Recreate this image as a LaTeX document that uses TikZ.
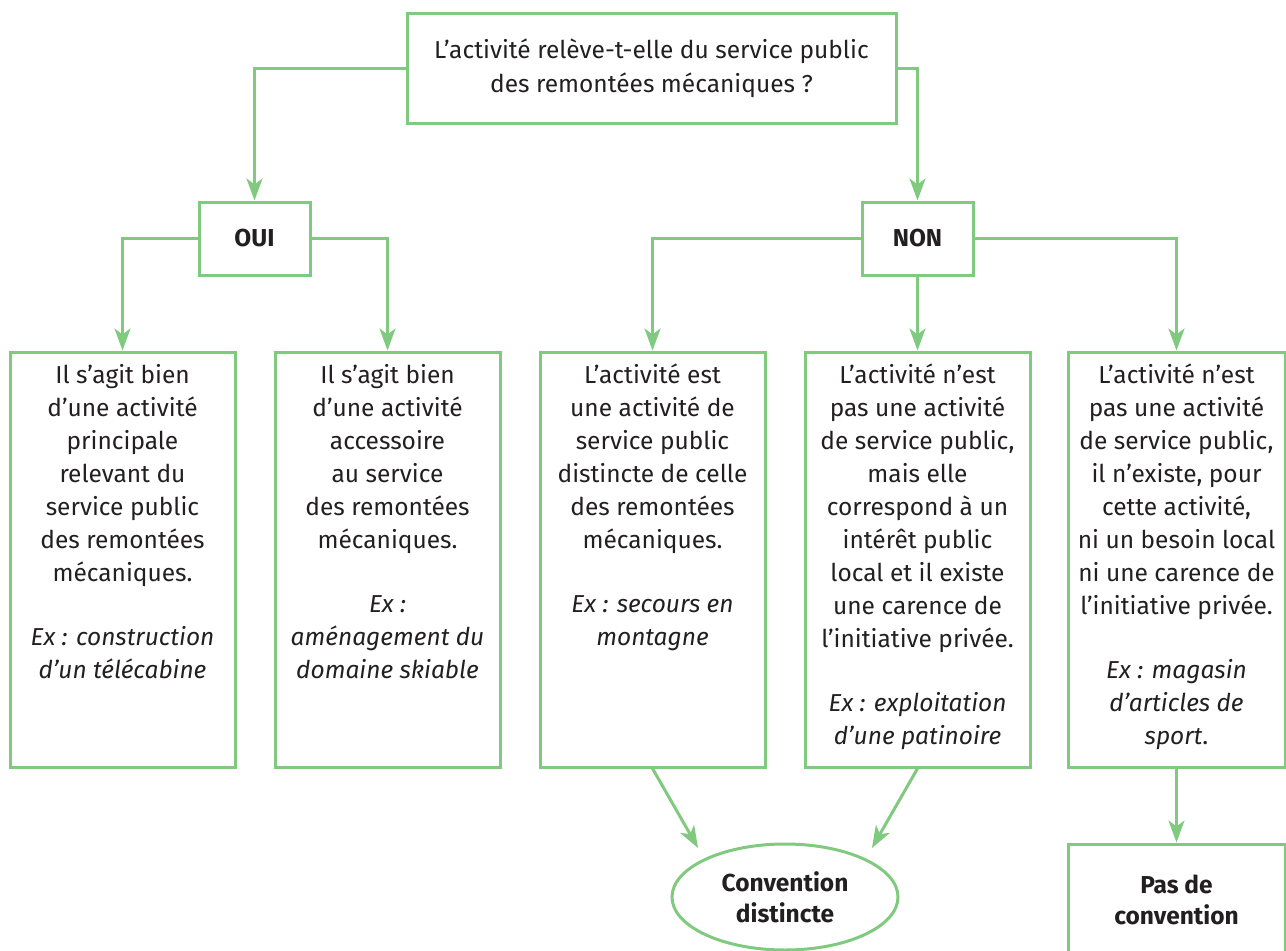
\documentclass[tikz,border=0pt]{standalone}
\usepackage{fontspec}
\setmainfont{Fira Sans}
\usetikzlibrary{arrows.meta, positioning, shapes.geometric}
\definecolor{flowgreen}{RGB}{128,202,128}
\definecolor{inkgrey}{RGB}{35,31,32}
\newlength{\colht}\setlength{\colht}{415pt}
\newcommand{\coltext}[2][225pt]{\parbox[c][\colht][t]{#1}{\centering\vspace*{12pt}#2}}
\tikzset{
    box/.style={
        rectangle, draw=flowgreen, line width=3pt, inner sep=0pt,
        text=inkgrey, align=center, font=\fontsize{24.5}{33}\selectfont
    },
    question/.style={box, minimum width=489pt, minimum height=110pt, font=\fontsize{24.5}{34}\selectfont},
    answer/.style={box, minimum width=111pt, minimum height=73pt, font=\fontsize{24.5}{33}\selectfont\bfseries},
    verdict/.style={box, minimum width=217pt, minimum height=112pt, font=\fontsize{24.5}{31}\selectfont\bfseries},
    outcome/.style={box, ellipse, minimum width=226pt, minimum height=106pt, font=\fontsize{24.5}{31}\selectfont\bfseries},
    flow/.style={draw=flowgreen, line width=3pt, -{Stealth[length=22pt, width=16pt, inset=6pt]}}
}

\begin{document}
\begin{tikzpicture}[x=1pt, y=-1pt]
\useasboundingbox (0,0) rectangle (1286,951);
\clip (0,0) rectangle (1286,951);

% Top: question
\node[question] (question) at (651.5,68) {L’activité relève-t-elle du service public\\des remontées mécaniques ?};

% Answers
\node[answer] (oui) at (254.5,238.5) {OUI};
\node[answer] (non) at (917.5,238.5) {NON};

% Cases
\node[box] (principale) at (122.5,559.5) {\coltext{Il s’agit bien\\d’une activité\\principale\\relevant du\\service public\\des remontées\\mécaniques.\\[31pt]
    \textit{Ex : construction}\\\textit{d’un télécabine}}};
\node[box, right=37pt of principale] (accessoire) {\coltext{Il s’agit bien\\d’une activité\\accessoire\\au service\\des remontées\\mécaniques.\\[31pt]
    \textit{Ex :}\\\textit{aménagement du}\\\textit{domaine skiable}}};
\node[box, right=37pt of accessoire] (distincte) {\coltext{L’activité est\\une activité de\\service public\\distincte de celle\\des remontées\\mécaniques.\\[31pt]
    \textit{Ex : secours en}\\\textit{montagne}}};
\node[box, right=37pt of distincte] (carence) {\coltext{L’activité n’est\\pas une activité\\de service public,\\mais elle\\correspond à un\\intérêt public\\local et il existe\\une carence de\\l’initiative privée.\\[31pt]
    \textit{Ex : exploitation}\\\textit{d’une patinoire}}};
\node[box, right=35pt of carence] (privee) {\coltext[217pt]{L’activité n’est\\pas une activité\\de service public,\\il n’existe, pour\\cette activité,\\ni un besoin local\\ni une carence de\\l’initiative privée.\\[31pt]
    \textit{Ex : magasin}\\\textit{d’articles de}\\\textit{sport}.}};

% Bottom: results
\node[outcome] (convention) at (785,897) {Convention\\distincte};
\node[verdict, below=74pt of privee] (aucune) {Pas de\\convention};

% Connections
\draw[flow] (question.west) -| (oui.north);
\draw[flow] (question.east) -| (non.north);
\draw[flow] (oui.west) -| (principale.north);
\draw[flow] (oui.east) -| (accessoire.north);
\draw[flow] (non.west) -| (distincte.north);
\draw[flow] (non.south) -- (carence.north);
\draw[flow] (non.east) -| (privee.north);
\draw[flow, shorten >=12pt] (distincte.south) -- (convention.north west);
\draw[flow, shorten >=12pt] (carence.south) -- (convention.north east);
\draw[flow] (privee.south) -- (aucune.north);

\end{tikzpicture}
\end{document}
